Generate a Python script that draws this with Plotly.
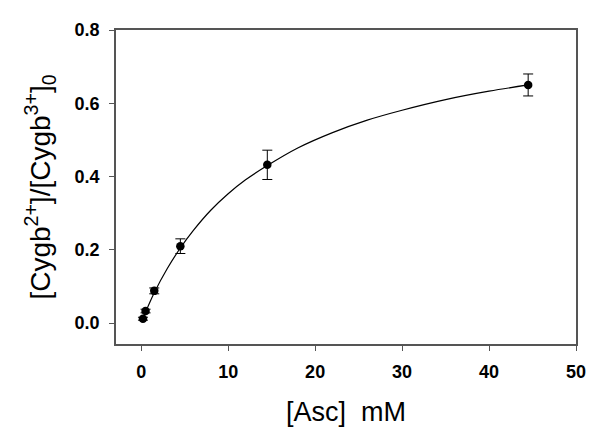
import plotly.graph_objects as go

# measured data
asc_mM = [0.2, 0.5, 1.5, 4.5, 14.5, 44.5]
ratio = [0.012, 0.033, 0.088, 0.21, 0.432, 0.65]
ratio_err = [0.004, 0.005, 0.008, 0.02, 0.04, 0.03]

# fitted curve
fit_x = [0.2, 0.5, 1.5, 3, 4.5, 6, 8, 10, 12, 14.5, 18, 22, 26, 30, 35, 40, 44.5]
fit_y = [0.012, 0.03, 0.083, 0.149, 0.205, 0.253, 0.308, 0.353, 0.391, 0.43,
         0.478, 0.52, 0.554, 0.581, 0.61, 0.633, 0.65]

x_ticks = [0, 10, 20, 30, 40, 50]
x_tick_text = ["0", "10", "20", "30", "40", "50"]
y_ticks = [0.0, 0.2, 0.4, 0.6, 0.8]
y_tick_text = ["0.0", "0.2", "0.4", "0.6", "0.8"]

FONT = "Liberation Sans, Arial, sans-serif"

fig = go.Figure()
fig.add_trace(go.Scatter(x=fit_x, y=fit_y, mode="lines", line=dict(color="black", width=1.2, shape="spline"),
                         hoverinfo="skip", showlegend=False))
fig.add_trace(go.Scatter(x=asc_mM, y=ratio, mode="markers",
                         marker=dict(color="black", size=8.5),
                         error_y=dict(type="data", array=ratio_err, color="black", thickness=1, width=5),
                         showlegend=False))

axis_common = dict(showgrid=False, zeroline=False, showline=True, linecolor="#555555", linewidth=1.5,
                   mirror=True, ticks="outside", ticklen=5, tickcolor="#555555", tickwidth=1.2,
                   ticklabelstandoff=6)

fig.update_layout(
    width=592, height=430,
    margin=dict(l=108, r=24, t=15, b=94),
    paper_bgcolor="white", plot_bgcolor="white",
    font=dict(family=FONT, color="black"),
    xaxis=dict(range=[-2.9, 50], tickvals=x_ticks, ticktext=["<b>%s</b>" % t for t in x_tick_text],
               tickfont=dict(size=18, family=FONT),
               title=dict(text="[Asc]  mM", font=dict(size=27, family=FONT), standoff=21), **axis_common),
    yaxis=dict(range=[-0.057, 0.8], tickvals=y_ticks, ticktext=["<b>%s</b>" % t for t in y_tick_text],
               tickfont=dict(size=18, family=FONT),
               title=dict(text="[Cygb<sup>2+</sup>]/[Cygb<sup>3+</sup>]<sub>0</sub>", font=dict(size=28, family=FONT), standoff=16),
               **axis_common),
)

fig.write_html("out.html")
